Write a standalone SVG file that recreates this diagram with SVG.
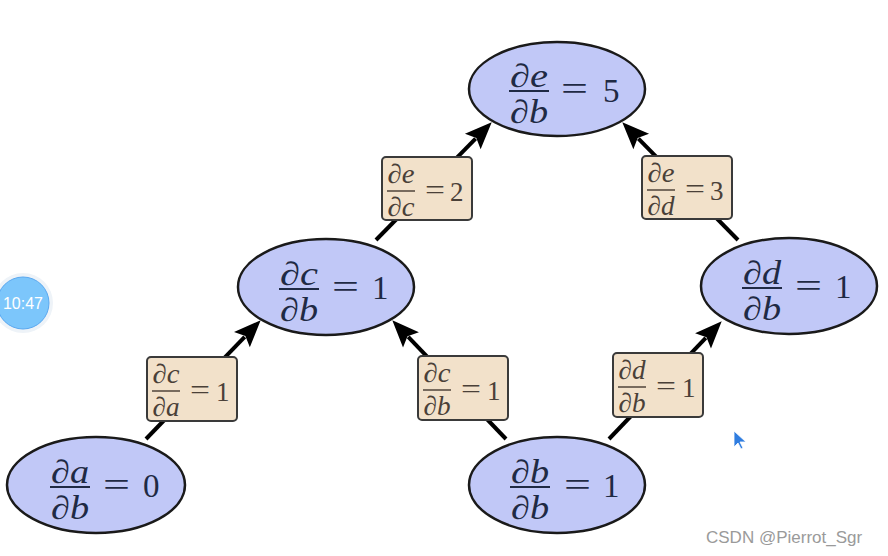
<svg xmlns="http://www.w3.org/2000/svg" width="888" height="556" viewBox="0 0 888 556">
<defs>
<marker id="ah" markerUnits="userSpaceOnUse" markerWidth="40" markerHeight="40" refX="0" refY="0" viewBox="-10 -20 40 40" orient="auto" overflow="visible">
<path d="M-4,-11 L23,0 L-4,11 L1,0 z" fill="#000"/>
</marker>
<style>
.node ellipse{fill:#c1c8f7;stroke:#1a1a1a;stroke-width:2.5}
.node text{font-family:"Liberation Serif","DejaVu Serif",serif;font-size:33px;fill:#1f2a44}
.node .v{font-style:italic;text-anchor:middle}
.node line{stroke:#1f2a44;stroke-width:2}
.lbl rect{fill:#f2e1ca;stroke:#3a3a3a;stroke-width:2}
.lbl text{font-family:"Liberation Serif","DejaVu Serif",serif;font-size:27px;fill:#4a4038}
.lbl .v{font-style:italic;text-anchor:middle}
.lbl line{stroke:#6a5e52;stroke-width:1.8}
.edge{stroke:#000;stroke-width:4;fill:none;marker-end:url(#ah)}
</style>
</defs>
<rect width="888" height="556" fill="#fff"/>

<g id="connectors">
<line class="edge" x1="146" y1="439" x2="244.7" y2="336.8"/>
<line class="edge" x1="506" y1="439" x2="408.2" y2="336.9"/>
<line class="edge" x1="609" y1="439" x2="705.8" y2="337.9"/>
<line class="edge" x1="376" y1="240" x2="475.6" y2="138.7"/>
<line class="edge" x1="738" y1="240" x2="638.4" y2="138.7"/>
</g>

<g id="label-de-dc" class="lbl">
<rect x="382" y="157" width="90" height="63" rx="4"/>
<text class="v" x="401" y="183" textLength="27" lengthAdjust="spacingAndGlyphs">∂e</text>
<line x1="387" y1="191" x2="415" y2="191"/>
<text class="v" x="401" y="216" textLength="27" lengthAdjust="spacingAndGlyphs">∂c</text>
<text x="425" y="199" textLength="20" lengthAdjust="spacingAndGlyphs">=</text>
<text x="450" y="201">2</text>
</g>
<g id="label-de-dd" class="lbl">
<rect x="642" y="156" width="90" height="63" rx="4"/>
<text class="v" x="661" y="182" textLength="27" lengthAdjust="spacingAndGlyphs">∂e</text>
<line x1="647" y1="190" x2="675" y2="190"/>
<text class="v" x="661" y="215" textLength="27" lengthAdjust="spacingAndGlyphs">∂d</text>
<text x="685" y="198" textLength="20" lengthAdjust="spacingAndGlyphs">=</text>
<text x="710" y="200">3</text>
</g>
<g id="label-dc-da" class="lbl">
<rect x="147" y="357" width="90" height="64" rx="4"/>
<text class="v" x="166" y="383" textLength="27" lengthAdjust="spacingAndGlyphs">∂c</text>
<line x1="152" y1="391" x2="180" y2="391"/>
<text class="v" x="166" y="416" textLength="27" lengthAdjust="spacingAndGlyphs">∂a</text>
<text x="190" y="399" textLength="20" lengthAdjust="spacingAndGlyphs">=</text>
<text x="216" y="401">1</text>
</g>
<g id="label-dc-db" class="lbl">
<rect x="418" y="356" width="90" height="64" rx="4"/>
<text class="v" x="437" y="382" textLength="27" lengthAdjust="spacingAndGlyphs">∂c</text>
<line x1="423" y1="390" x2="451" y2="390"/>
<text class="v" x="437" y="415" textLength="27" lengthAdjust="spacingAndGlyphs">∂b</text>
<text x="461" y="398" textLength="20" lengthAdjust="spacingAndGlyphs">=</text>
<text x="487" y="400">1</text>
</g>
<g id="label-dd-db" class="lbl">
<rect x="613" y="353" width="90" height="64" rx="4"/>
<text class="v" x="632" y="379" textLength="27" lengthAdjust="spacingAndGlyphs">∂d</text>
<line x1="618" y1="387" x2="646" y2="387"/>
<text class="v" x="632" y="412" textLength="27" lengthAdjust="spacingAndGlyphs">∂b</text>
<text x="656" y="395" textLength="20" lengthAdjust="spacingAndGlyphs">=</text>
<text x="682" y="397">1</text>
</g>

<g id="node-e" class="node">
<ellipse cx="557" cy="89" rx="88" ry="47"/>
<text class="v" x="529" y="87" textLength="38" lengthAdjust="spacingAndGlyphs">∂e</text>
<line x1="509" y1="91" x2="549" y2="91"/>
<text class="v" x="529" y="123" textLength="38" lengthAdjust="spacingAndGlyphs">∂b</text>
<text x="561" y="100" textLength="27" lengthAdjust="spacingAndGlyphs">=</text>
<text x="603" y="102">5</text>
</g>
<g id="node-c" class="node">
<ellipse cx="326" cy="287" rx="88" ry="48"/>
<text class="v" x="299" y="285" textLength="38" lengthAdjust="spacingAndGlyphs">∂c</text>
<line x1="279" y1="289" x2="319" y2="289"/>
<text class="v" x="299" y="321" textLength="38" lengthAdjust="spacingAndGlyphs">∂b</text>
<text x="332" y="298" textLength="27" lengthAdjust="spacingAndGlyphs">=</text>
<text x="372" y="299">1</text>
</g>
<g id="node-d" class="node">
<ellipse cx="789" cy="286" rx="88" ry="48"/>
<text class="v" x="762" y="284" textLength="38" lengthAdjust="spacingAndGlyphs">∂d</text>
<line x1="742" y1="288" x2="782" y2="288"/>
<text class="v" x="762" y="320" textLength="38" lengthAdjust="spacingAndGlyphs">∂b</text>
<text x="795" y="297" textLength="27" lengthAdjust="spacingAndGlyphs">=</text>
<text x="835" y="298">1</text>
</g>
<g id="node-a" class="node">
<ellipse cx="96" cy="485" rx="89" ry="48"/>
<text class="v" x="70" y="483" textLength="38" lengthAdjust="spacingAndGlyphs">∂a</text>
<line x1="50" y1="487" x2="90" y2="487"/>
<text class="v" x="70" y="519" textLength="38" lengthAdjust="spacingAndGlyphs">∂b</text>
<text x="103" y="496" textLength="27" lengthAdjust="spacingAndGlyphs">=</text>
<text x="143" y="497">0</text>
</g>
<g id="node-b" class="node">
<ellipse cx="557" cy="485" rx="88" ry="48"/>
<text class="v" x="530" y="483" textLength="38" lengthAdjust="spacingAndGlyphs">∂b</text>
<line x1="510" y1="487" x2="550" y2="487"/>
<text class="v" x="530" y="519" textLength="38" lengthAdjust="spacingAndGlyphs">∂b</text>
<text x="564" y="496" textLength="27" lengthAdjust="spacingAndGlyphs">=</text>
<text x="603" y="497">1</text>
</g>

<g id="timer">
<circle cx="23" cy="303" r="30" fill="#eef3f8"/>
<circle cx="23" cy="303" r="26" fill="#7cc6fb" stroke="#5aa8f0" stroke-width="1"/>
<text x="23" y="309" font-family="Liberation Sans, Arial, sans-serif" font-size="16" fill="#fff" text-anchor="middle">10:47</text>
</g>

<path d="M734,431 L734,447 L738,443 L741,449 L743,448 L740,442 L746,442 z" fill="#2f7de0" stroke="#fff" stroke-width="0.8"/>

<text x="706" y="543" font-family="Liberation Sans, Arial, sans-serif" font-size="17" fill="#9a9a9a">CSDN @Pierrot_Sgr</text>
</svg>
